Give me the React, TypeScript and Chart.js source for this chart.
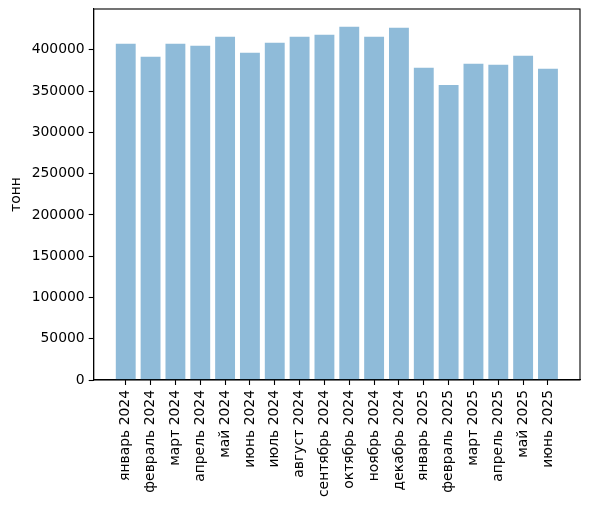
import { useRef, useEffect } from "react";
import { Chart, registerables, type ChartConfiguration } from "chart.js";

Chart.register(...registerables);

const months = [
  "январь 2024", "февраль 2024", "март 2024", "апрель 2024", "май 2024", "июнь 2024",
  "июль 2024", "август 2024", "сентябрь 2024", "октябрь 2024", "ноябрь 2024", "декабрь 2024",
  "январь 2025", "февраль 2025", "март 2025", "апрель 2025", "май 2025", "июнь 2025",
];
const tonnes = [
  407300, 391500, 407300, 404900, 415800, 396400,
  408500, 415800, 418200, 428000, 415800, 426800,
  378100, 357400, 383000, 381800, 392700, 376900,
];
const yTicks = [0, 50000, 100000, 150000, 200000, 250000, 300000, 350000, 400000];

const FONT = { family: "'DejaVu Sans', sans-serif", size: 13.9 };

// matplotlib draws all four spines
const frame = {
  id: "frame",
  afterDraw(chart: Chart) {
    const { ctx, chartArea: a } = chart;
    ctx.save();
    ctx.strokeStyle = "#000";
    ctx.lineWidth = 1.1;
    ctx.strokeRect(a.left, a.top, a.right - a.left, a.bottom - a.top);
    ctx.restore();
  },
};

export default function App() {
  const chartRef = useRef<HTMLCanvasElement | null>(null);
  const chartInstanceRef = useRef<Chart | null>(null);

  useEffect(() => {
    if (!chartRef.current) return;
    const ctx = chartRef.current.getContext("2d");
    if (!ctx) return;
    if (chartInstanceRef.current) chartInstanceRef.current.destroy();

    const config: ChartConfiguration<"bar"> = {
      type: "bar",
      data: {
        datasets: [
          {
            data: tonnes.map((v, i) => ({ x: i, y: v })),
            backgroundColor: "rgba(31,119,180,0.5)",
            borderWidth: 0,
            barPercentage: 0.8,
            categoryPercentage: 1,
          },
        ],
      },
      options: {
        animation: false,
        responsive: true,
        maintainAspectRatio: false,
        layout: { padding: { top: 9, right: 18, left: 5, bottom: 0 } },
        plugins: { legend: { display: false }, tooltip: { enabled: false } },
        scales: {
          x: {
            type: "linear",
            offset: false,
            min: -1.29,
            max: 18.29,
            afterBuildTicks: (scale) => {
              scale.ticks = months.map((_, i) => ({ value: i }));
            },
            afterFit: (scale) => {
              scale.height = 126;
            },
            ticks: {
              autoSkip: false,
              minRotation: 90,
              maxRotation: 90,
              color: "#000",
              font: FONT,
              padding: 5,
              callback: (v) => months[Number(v)] ?? "",
            },
            grid: { offset: false, drawOnChartArea: false, tickLength: 5, color: "#000", tickWidth: 1.1 },
            border: { color: "#000", width: 1.1 },
          },
          y: {
            min: 0,
            max: 449400,
            afterBuildTicks: (scale) => {
              scale.ticks = yTicks.map((v) => ({ value: v }));
            },
            afterFit: (scale) => {
              scale.paddingTop = 0;
              scale.paddingBottom = 0;
            },
            ticks: { color: "#000", font: FONT, padding: 4, callback: (v) => String(v) },
            grid: { drawOnChartArea: false, tickLength: 5, color: "#000", tickWidth: 1.1 },
            border: { color: "#000", width: 1.1 },
            title: { display: true, text: "тонн", color: "#000", font: FONT, padding: 3 },
          },
        },
      },
      plugins: [frame],
    };

    chartInstanceRef.current = new Chart(ctx, config);
    return () => {
      if (chartInstanceRef.current) chartInstanceRef.current.destroy();
    };
  }, []);

  return (
    <div style={{ position: "absolute", left: 0, top: 0, width: 598, height: 506, background: "#fff" }}>
      <canvas ref={chartRef} />
    </div>
  );
}
